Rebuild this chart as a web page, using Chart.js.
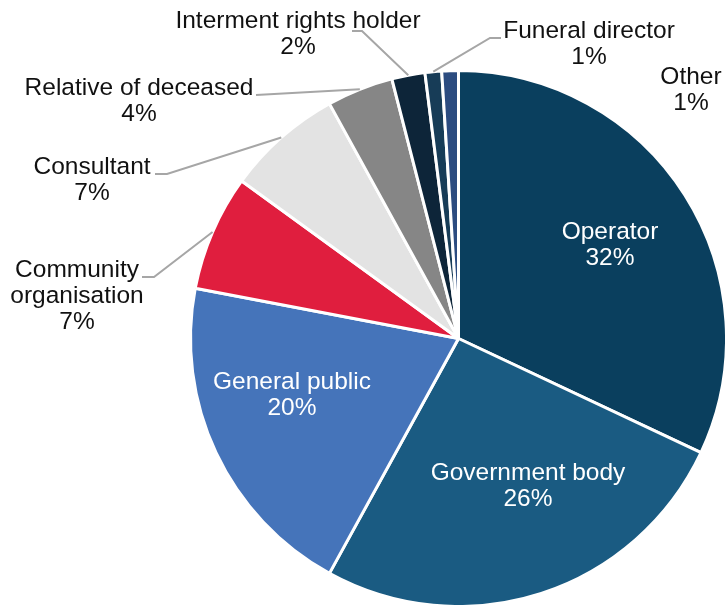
<!DOCTYPE html>
<html>
<head>
<meta charset="utf-8">
<script src="https://cdn.jsdelivr.net/npm/chart.js@4"></script>
<style>
  html, body { margin: 0; padding: 0; background: #fff; }
  canvas { display: block; }
</style>
</head>
<body>
<canvas id="myChart" width="725" height="605"></canvas>
<script>
// respondent types and their share of submissions (%)
var categories = ["Operator", "Government body", "General public", "Community organisation",
	"Consultant", "Relative of deceased", "Interment rights holder", "Funeral director", "Other"];
var shares = [32, 26, 20, 7, 7, 4, 2, 1, 1];
var colours = ["#0a3f5e", "#1a5b82", "#4574ba", "#e01e3e", "#e3e3e3", "#868686", "#0d2539", "#173c57", "#2c4c80"];

// label text lines, where to put them and how the leader line runs to the slice
var labelLines = [
	["Operator"], ["Government body"], ["General public"], ["Community", "organisation"],
	["Consultant"], ["Relative of deceased"], ["Interment rights holder"], ["Funeral director"], ["Other"]
];
var labelLayout = [
	{ x: 610, y: 232, color: "#fff" },
	{ x: 528, y: 473, color: "#fff" },
	{ x: 292, y: 382, color: "#fff" },
	{ x: 77, y: 270, leader: [[142, 277], [154, 277]] },
	{ x: 92, y: 167, leader: [[155, 174], [167, 174]] },
	{ x: 139, y: 88, leader: [[256, 95]] },
	{ x: 298, y: 21, leader: [[352, 31], [362, 31]] },
	{ x: 589, y: 31, leader: [[501, 38], [490, 38]] },
	{ x: 691, y: 77 }
];

var pieLabels = {
	id: "pieLabels",
	afterDatasetsDraw: function(chart) {
		var ctx = chart.ctx;
		var arcs = chart.getDatasetMeta(0).data;
		ctx.save();
		// leader lines first, from the label to the middle of the slice's outer edge
		ctx.strokeStyle = "#a6a6a6";
		ctx.lineWidth = 2;
		arcs.forEach(function(arc, i) {
			var lay = labelLayout[i];
			if (!lay.leader) return;
			var p = arc.getProps(["x", "y", "startAngle", "endAngle", "outerRadius"], true);
			var mid = (p.startAngle + p.endAngle) / 2;
			ctx.beginPath();
			ctx.moveTo(lay.leader[0][0], lay.leader[0][1]);
			for (var k = 1; k < lay.leader.length; k++) ctx.lineTo(lay.leader[k][0], lay.leader[k][1]);
			ctx.lineTo(p.x + Math.cos(mid) * p.outerRadius, p.y + Math.sin(mid) * p.outerRadius);
			ctx.stroke();
		});
		ctx.font = "24.5px 'Liberation Sans', Arial, sans-serif";
		ctx.textAlign = "center";
		ctx.textBaseline = "middle";
		shares.forEach(function(v, i) {
			var lay = labelLayout[i];
			var lines = labelLines[i].concat([v + "%"]);
			ctx.fillStyle = lay.color || "#111";
			lines.forEach(function(t, k) {
				ctx.fillText(t, lay.x, lay.y + k * 26);
			});
		});
		ctx.restore();
	}
};

var ctx = document.getElementById("myChart").getContext("2d");
var chart = new Chart(ctx, {
	type: "pie",
	data: {
		labels: categories,
		datasets: [{
			data: shares,
			backgroundColor: colours,
			borderColor: "#fff",
			borderWidth: 3,
			radius: 268
		}]
	},
	options: {
		responsive: false,
		animation: false,
		events: [],
		layout: { padding: { left: 192, top: 72, right: 0, bottom: 0 } },
		plugins: {
			legend: { display: false },
			tooltip: { enabled: false }
		}
	},
	plugins: [pieLabels]
});
</script>
</body>
</html>
